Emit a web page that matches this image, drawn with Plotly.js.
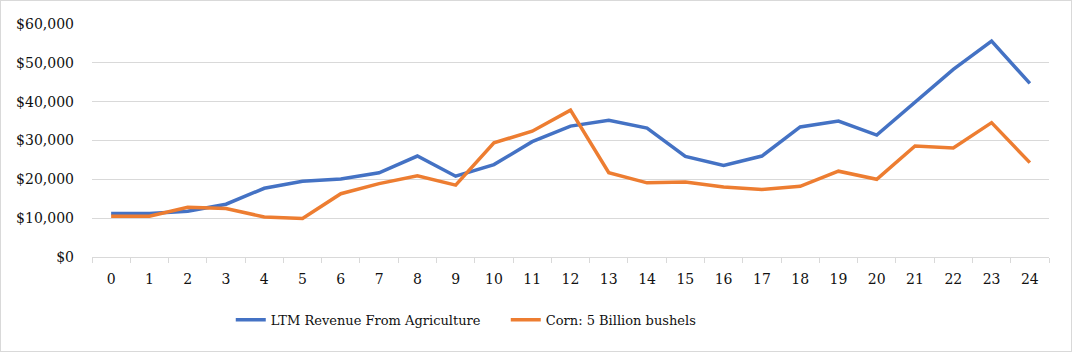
<!DOCTYPE html>
<html><head><meta charset="utf-8">
<script src="https://cdn.plot.ly/plotly-3.0.1.min.js"></script>
<style>
html,body{margin:0;padding:0;background:#fff;}
#chart{width:1072px;height:352px;box-sizing:border-box;border:1px solid #d9d9d9;}
</style></head>
<body><div id="chart"></div>
<script>
const categories = ["0","1","2","3","4","5","6","7","8","9","10","11","12","13","14","15","16","17","18","19","20","21","22","23","24"];
const revenueName = "LTM Revenue From Agriculture";
const revenue = [11200, 11200, 11800, 13600, 17700, 19500, 20100, 21700, 26000, 20800, 23800, 29700, 33700, 35200, 33200, 25900, 23600, 26000, 33500, 35000, 31400, 40000, 48300, 55600, 44700];
const cornName = "Corn: 5 Billion bushels";
const corn = [10500, 10500, 12800, 12500, 10300, 9900, 16300, 18900, 20900, 18500, 29400, 32400, 37800, 21700, 19100, 19300, 18000, 17400, 18200, 22100, 20000, 28600, 28100, 34600, 24300];

const data = [
  {x: categories, y: revenue, name: revenueName, type: "scatter", mode: "lines",
   line: {color: "#4472C4", width: 3.5}},
  {x: categories, y: corn, name: cornName, type: "scatter", mode: "lines",
   line: {color: "#ED7D31", width: 3.5}}
];
const FONT = "DejaVu Serif";
const layout = {
  width: 1070, height: 350,
  margin: {l: 91, r: 22, t: 23, b: 94},
  paper_bgcolor: "#fff", plot_bgcolor: "#fff",
  font: {family: FONT, size: 14, color: "#111"},
  showlegend: true,
  legend: {orientation: "h", x: 0.145, xanchor: "left", y: -0.27, yanchor: "middle",
           font: {size: 13, family: FONT}, itemwidth: 30, tracegroupgap: 0,
           entrywidth: 230, entrywidthmode: "pixels"},
  xaxis: {type: "category", range: [-0.5, 24.5], showgrid: false, zeroline: false,
          showline: true, linecolor: "#d9d9d9", linewidth: 1,
          ticks: "outside", tickson: "boundaries", ticklen: 5, tickcolor: "#d9d9d9",
          ticklabelstandoff: 9,
          tickfont: {size: 14, family: FONT}, fixedrange: true},
  yaxis: {range: [0, 60000], dtick: 10000, tickprefix: "$", tickformat: ",d",
          showgrid: true, gridcolor: "#d9d9d9", gridwidth: 1, zeroline: false,
          showline: false, ticks: "", ticklabelstandoff: 17, tickfont: {size: 14, family: FONT}, fixedrange: true}
};
Plotly.newPlot("chart", data, layout, {displayModeBar: false, staticPlot: true});
</script></body></html>
